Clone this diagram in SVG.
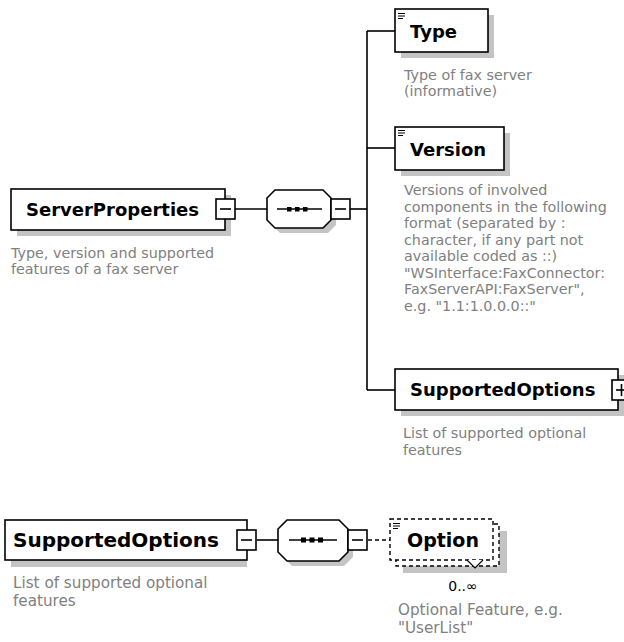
<svg xmlns="http://www.w3.org/2000/svg" xmlns:xlink="http://www.w3.org/1999/xlink" width="624" height="642" viewBox="0 0 624 642">
<style>
.bg{fill:#fff}
.box{fill:#fff;stroke:#000;stroke-width:1.6}
.dbox{fill:#fff;stroke:#000;stroke-width:1.4;stroke-dasharray:4 3}
.shadow{fill:#c4c4c4}
.title{font-family:"DejaVu Sans",Verdana,sans-serif;font-weight:bold;font-size:18px;fill:#000}
.desc{font-family:"DejaVu Sans",Verdana,sans-serif;font-size:14.3px;fill:#808080}
.desc2{font-family:"DejaVu Sans",Verdana,sans-serif;font-size:15.2px;fill:#808080}
.conn{stroke:#000;stroke-width:1.6;fill:none}
.dconn{stroke:#000;stroke-width:1.4;fill:none;stroke-dasharray:4 3}
.ico{stroke:#000;stroke-width:1.1;fill:none}
</style>
<defs>
<g id="minus"><rect x="0" y="0" width="19" height="20" class="box"/><line x1="4" y1="10" x2="15" y2="10" class="conn"/></g>
<g id="plus"><rect x="0" y="0" width="19" height="20" class="box"/><line x1="4" y1="10" x2="15" y2="10" class="conn"/><line x1="9.5" y1="4" x2="9.5" y2="16" class="conn"/></g>
<g id="icon"><path class="ico" d="M0 0.5h7M0 3h7M0 5.5h5"/></g>
</defs>
<rect class="bg" x="0" y="0" width="624" height="642"/>

<g id="connectors">
<line class="conn" x1="234" y1="209" x2="267" y2="209"/>
<line class="conn" x1="350" y1="209" x2="367" y2="209"/>
<line class="conn" x1="367" y1="31" x2="367" y2="390"/>
<line class="conn" x1="367" y1="31" x2="395" y2="31"/>
<line class="conn" x1="367" y1="148" x2="395" y2="148"/>
<line class="conn" x1="367" y1="390" x2="395" y2="390"/>
<line class="conn" x1="257" y1="540" x2="278" y2="540"/>
<line class="dconn" x1="368" y1="540" x2="390" y2="540"/>
</g>

<g id="ServerProperties">
<rect class="shadow" x="17" y="195" width="214" height="41"/>
<rect class="box" x="11" y="189" width="214" height="41"/>
<text class="title" x="26" y="216">ServerProperties</text>
<use xlink:href="#minus" x="216" y="199"/>
<text class="desc" x="11" y="258">Type, version and supported</text>
<text class="desc" x="11" y="274">features of a fax server</text>
</g>

<g id="sequence1">
<polygon class="shadow" points="280,195 328,195 336,203 336,225 328,233 280,233 272,225 272,203"/>
<polygon class="box" points="275,190 323,190 331,198 331,220 323,228 275,228 267,220 267,198"/>
<line class="conn" x1="277" y1="209" x2="322" y2="209"/>
<rect x="287" y="207" width="4.5" height="4.5" fill="#000"/>
<rect x="295" y="207" width="4.5" height="4.5" fill="#000"/>
<rect x="303" y="207" width="4.5" height="4.5" fill="#000"/>
<use xlink:href="#minus" x="331" y="199"/>
</g>

<g id="Type">
<rect class="shadow" x="401" y="15" width="93" height="43"/>
<rect class="box" x="395" y="9" width="93" height="43"/>
<use xlink:href="#icon" x="398" y="13"/>
<text class="title" x="410" y="38">Type</text>
<text class="desc" x="404" y="80">Type of fax server</text>
<text class="desc" x="404" y="96">(informative)</text>
</g>

<g id="Version">
<rect class="shadow" x="401" y="133" width="109" height="43"/>
<rect class="box" x="395" y="127" width="109" height="43"/>
<use xlink:href="#icon" x="398" y="130"/>
<text class="title" x="410" y="156">Version</text>
<text class="desc" x="404" y="195">Versions of involved</text>
<text class="desc" x="404" y="211.5">components in the following</text>
<text class="desc" x="404" y="228">format (separated by :</text>
<text class="desc" x="404" y="244.5">character, if any part not</text>
<text class="desc" x="404" y="261">available coded as ::)</text>
<text class="desc" x="404" y="277.5">"WSInterface:FaxConnector:</text>
<text class="desc" x="404" y="294">FaxServerAPI:FaxServer",</text>
<text class="desc" x="404" y="310.5">e.g. "1.1:1.0.0.0::"</text>
</g>

<g id="SupportedOptionsRef">
<rect class="shadow" x="401" y="375" width="223" height="41"/>
<rect class="box" x="395" y="369" width="223" height="41"/>
<text class="title" x="410" y="396">SupportedOptions</text>
<use xlink:href="#plus" x="612" y="380"/>
<text class="desc" x="403" y="438">List of supported optional</text>
<text class="desc" x="403" y="455">features</text>
</g>

<g id="SupportedOptions">
<rect class="shadow" x="11" y="526" width="236" height="41"/>
<rect class="box" x="5" y="520" width="242" height="40"/>
<text class="title" x="13" y="547" style="font-size:20px">SupportedOptions</text>
<use xlink:href="#minus" x="237" y="530"/>
<text class="desc2" x="13" y="588">List of supported optional</text>
<text class="desc2" x="13" y="606">features</text>
</g>

<g id="sequence2">
<polygon class="shadow" points="292,525 344,525 353,534 353,557 344,566 292,566 283,557 283,534"/>
<polygon class="box" points="287,520 339,520 348,529 348,552 339,561 287,561 278,552 278,529"/>
<line class="conn" x1="289" y1="540" x2="337" y2="540"/>
<rect x="301" y="537.5" width="5" height="5" fill="#000"/>
<rect x="309.5" y="537.5" width="5" height="5" fill="#000"/>
<rect x="318" y="537.5" width="5" height="5" fill="#000"/>
<use xlink:href="#minus" x="348" y="530"/>
</g>

<g id="Option">
<rect class="shadow" x="403" y="531" width="104" height="42"/>
<rect class="dbox" x="396" y="524" width="103" height="42"/>
<rect class="dbox" x="390" y="519" width="103" height="41"/>
<polyline points="467,560 475,568 483,560" fill="#fff" stroke="#000" stroke-width="1.2"/>
<use xlink:href="#icon" x="393" y="523"/>
<text class="title" x="407" y="547" style="font-size:19px">Option</text>
<text x="463" y="591" text-anchor="middle" style="font-family:'DejaVu Sans',sans-serif;font-size:14px;fill:#000">0..∞</text>
<text class="desc2" x="398" y="615">Optional Feature, e.g.</text>
<text class="desc2" x="398" y="633">"UserList"</text>
</g>
</svg>
